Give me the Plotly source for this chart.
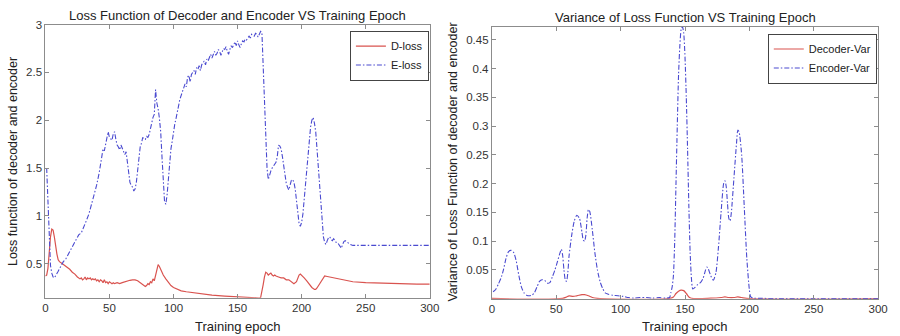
import plotly.graph_objects as go

# ---------------- data ----------------
e_loss_epoch = [1,2,3,4,5,6,7,8,10,12,14,16,18,20,22,24,26,28,30,32,34,36,38,40,42,43,44,45,46,47,48,49,50,51,52,53,54,55,56,57,58,59,60,61,62,63,64,65,66,67,68,69,70,71,72,73,74,75,76,77,78,79,80,81,82,83,84,85,86,87,88,89,90,91,92,93,94,95,96,97,98,99,100,101,102,103,104,105,106,107,108,109,110,111,112,113,114,115,116,117,118,119,120,121,122,123,124,125,126,127,128,129,130,131,132,133,134,135,136,137,138,139,140,141,142,143,144,145,146,147,148,149,150,151,152,153,154,155,156,157,158,159,160,161,162,163,164,165,166,167,168,169,170,171,172,173,174,175,176,177,178,179,180,181,182,183,184,185,186,187,188,189,190,191,192,193,194,195,196,197,198,199,200,201,202,203,204,205,206,207,208,209,210,211,212,213,214,215,216,217,218,219,220,221,222,223,224,225,226,227,228,229,230,231,232,233,234,235,236,238,240,250,260,270,280,290,300]
e_loss = [1.50,1.1,0.7,0.48,0.4,0.36,0.35,0.37,0.42,0.47,0.52,0.55,0.6,0.65,0.7,0.76,0.8,0.82,0.88,0.95,1.02,1.12,1.2,1.32,1.45,1.52,1.62,1.7,1.68,1.75,1.82,1.88,1.82,1.8,1.79,1.86,1.88,1.8,1.74,1.72,1.69,1.74,1.7,1.66,1.64,1.67,1.58,1.45,1.35,1.32,1.3,1.26,1.28,1.35,1.48,1.62,1.72,1.76,1.82,1.8,1.8,1.83,1.82,1.85,1.92,2.0,2.03,2.06,2.32,2.18,2.12,2.02,1.88,1.62,1.35,1.15,1.12,1.22,1.38,1.55,1.7,1.78,1.88,1.96,2.02,2.1,2.16,2.22,2.26,2.3,2.33,2.38,2.35,2.45,2.47,2.4,2.48,2.5,2.52,2.48,2.55,2.53,2.57,2.52,2.58,2.6,2.62,2.58,2.64,2.62,2.66,2.69,2.65,2.7,2.72,2.68,2.7,2.74,2.72,2.68,2.73,2.75,2.74,2.77,2.72,2.69,2.74,2.78,2.76,2.8,2.82,2.78,2.83,2.79,2.76,2.8,2.83,2.82,2.85,2.84,2.86,2.88,2.86,2.9,2.89,2.88,2.91,2.9,2.87,2.9,2.93,2.92,2.6,2.2,1.8,1.5,1.38,1.44,1.47,1.5,1.52,1.55,1.56,1.62,1.74,1.73,1.7,1.62,1.52,1.42,1.34,1.3,1.27,1.32,1.37,1.38,1.35,1.28,1.15,1.0,0.92,0.89,0.93,1.02,1.18,1.35,1.52,1.68,1.82,1.93,2.0,2.03,1.97,1.88,1.7,1.5,1.3,1.1,0.9,0.78,0.72,0.7,0.74,0.77,0.78,0.75,0.74,0.76,0.74,0.72,0.72,0.7,0.67,0.66,0.7,0.73,0.74,0.73,0.72,0.7,0.69,0.69,0.69,0.69,0.69,0.69,0.69]

d_loss_epoch = [0,1,2,3,4,5,6,7,8,9,10,11,13,15,17,19,21,23,25,26,27,28,29,30,31,32,33,34,35,36,37,38,39,40,41,42,43,44,45,46,47,48,49,50,51,52,53,54,56,58,60,62,64,66,68,70,72,74,76,78,79,80,81,82,83,84,85,86,87,88,89,90,91,92,94,96,98,100,103,106,110,115,120,130,140,150,160,167,168,169,170,171,172,173,174,175,176,177,178,179,180,182,184,186,188,190,192,194,196,197,198,199,200,202,204,206,208,210,211,212,214,216,218,220,225,230,235,240,250,260,275,290,300]
d_loss = [0.37,0.38,0.45,0.62,0.78,0.86,0.85,0.78,0.68,0.6,0.54,0.52,0.5,0.48,0.46,0.44,0.41,0.39,0.36,0.35,0.34,0.35,0.33,0.34,0.36,0.33,0.35,0.34,0.35,0.33,0.34,0.33,0.34,0.32,0.33,0.31,0.33,0.32,0.3,0.33,0.3,0.31,0.29,0.31,0.3,0.29,0.3,0.29,0.3,0.29,0.3,0.31,0.32,0.325,0.33,0.33,0.32,0.3,0.28,0.26,0.27,0.29,0.28,0.31,0.3,0.34,0.32,0.37,0.42,0.49,0.47,0.44,0.41,0.38,0.34,0.3,0.27,0.25,0.23,0.215,0.205,0.195,0.185,0.17,0.16,0.15,0.145,0.14,0.145,0.2,0.28,0.36,0.41,0.4,0.38,0.39,0.4,0.38,0.37,0.38,0.37,0.36,0.35,0.35,0.33,0.33,0.31,0.29,0.31,0.35,0.38,0.39,0.38,0.35,0.32,0.28,0.25,0.23,0.23,0.245,0.29,0.33,0.37,0.365,0.35,0.335,0.32,0.31,0.3,0.295,0.29,0.285,0.285]

enc_var_epoch = [1,3,5,7,9,11,13,15,17,19,21,23,25,27,29,31,33,35,37,39,41,43,45,47,49,51,53,54,55,56,57,58,59,60,62,64,66,68,70,71,72,73,74,75,76,78,80,82,84,86,88,90,94,98,102,106,110,115,120,125,130,135,138,139,140,141,142,143,144,145,146,147,148,149,150,151,152,153,154,155,156,158,160,162,164,166,167,168,170,172,174,176,178,180,181,182,183,184,185,186,188,190,191,192,194,196,198,200,201,203,210,250,300]
enc_var = [0.012,0.016,0.025,0.035,0.05,0.07,0.082,0.084,0.08,0.065,0.04,0.02,0.01,0.006,0.005,0.006,0.01,0.02,0.03,0.033,0.032,0.027,0.028,0.038,0.05,0.065,0.08,0.086,0.075,0.05,0.033,0.03,0.045,0.075,0.11,0.135,0.145,0.14,0.115,0.102,0.1,0.11,0.14,0.155,0.152,0.12,0.08,0.05,0.03,0.018,0.01,0.008,0.006,0.005,0.004,0.002,0.001,0.002,0.002,0.001,0.002,0.001,0.002,0.01,0.02,0.04,0.1,0.2,0.3,0.39,0.44,0.468,0.473,0.462,0.42,0.35,0.26,0.16,0.08,0.035,0.017,0.02,0.025,0.028,0.035,0.05,0.055,0.052,0.04,0.032,0.045,0.09,0.15,0.2,0.205,0.195,0.165,0.14,0.135,0.15,0.21,0.27,0.293,0.29,0.25,0.16,0.07,0.015,0.003,0.001,0.0005,0.0003,0.0003]

dec_var_epoch = [0,55,58,60,63,66,70,72,75,78,82,138,141,143,145,147,149,151,153,155,170,178,181,184,188,191,194,198,300]
dec_var = [0.0005,0.0005,0.003,0.005,0.004,0.005,0.007,0.007,0.005,0.002,0.0005,0.0005,0.003,0.009,0.013,0.015,0.014,0.009,0.003,0.0008,0.0008,0.002,0.003,0.002,0.002,0.003,0.002,0.0005,0.0003]

x_ticks = [0, 50, 100, 150, 200, 250, 300]
loss_ticks = [0.5, 1, 1.5, 2, 2.5, 3]
var_ticks = [0.05, 0.1, 0.15, 0.2, 0.25, 0.3, 0.35, 0.4, 0.45]

# ---------------- figure ----------------
RED = "#d9534f"
BLUE = "#4a4ad0"
FONT = "Liberation Sans, Arial, sans-serif"
DASH = "5px,2px,1.5px,2px"

fig = go.Figure()
fig.add_trace(go.Scatter(x=d_loss_epoch, y=d_loss, mode="lines", name="D-loss",
                         line=dict(color=RED, width=1.2), xaxis="x", yaxis="y", legend="legend"))
fig.add_trace(go.Scatter(x=e_loss_epoch, y=e_loss, mode="lines", name="E-loss",
                         line=dict(color=BLUE, width=1.1, dash=DASH), xaxis="x", yaxis="y", legend="legend"))
fig.add_trace(go.Scatter(x=dec_var_epoch, y=dec_var, mode="lines", name="Decoder-Var",
                         line=dict(color=RED, width=1.2, shape="spline"), xaxis="x2", yaxis="y2", legend="legend2"))
fig.add_trace(go.Scatter(x=enc_var_epoch, y=enc_var, mode="lines", name="Encoder-Var",
                         line=dict(color=BLUE, width=1.1, dash=DASH, shape="spline", smoothing=0.6),
                         xaxis="x2", yaxis="y2", legend="legend2"))

axis_common = dict(showline=True, linecolor="#8c8c8c", linewidth=1, mirror="ticks",
                   ticks="inside", ticklen=4, tickcolor="#8c8c8c", showgrid=False, zeroline=False,
                   tickfont=dict(size=11.5, color="#333333", family=FONT))

legend_common = dict(xanchor="left", yanchor="top", bgcolor="white",
                     bordercolor="#444444", borderwidth=1,
                     font=dict(size=11, family=FONT, color="#222"),
                     tracegroupgap=0, itemwidth=30)

fig.update_layout(
    width=900, height=336,
    margin=dict(l=0, r=0, t=0, b=0),
    paper_bgcolor="white", plot_bgcolor="white",
    font=dict(family=FONT, color="#222222"),
    xaxis=dict(domain=[43/900, 433/900], range=[0, 300], tickvals=x_ticks, anchor="y", **axis_common),
    yaxis=dict(domain=[1-297/336, 1-19/336], range=[0.143, 3], tickvals=loss_ticks, anchor="x", **axis_common),
    xaxis2=dict(domain=[496/900, 888/900], range=[0, 300], tickvals=x_ticks, anchor="y2", **axis_common),
    yaxis2=dict(domain=[1-298/336, 1-21/336], range=[0, 0.473], tickvals=var_ticks, anchor="x2", **axis_common),
    legend=dict(x=352/900, y=1-25/336, **legend_common),
    legend2=dict(x=776/900, y=1-28/336, **legend_common),
    showlegend=True,
)

ann = [
    dict(text="Loss Function of Decoder and Encoder VS Training Epoch", x=238/900, y=1-10/336),
    dict(text="Variance of Loss Function VS Training Epoch", x=693/900, y=1-12/336),
    dict(text="Training epoch", x=238/900, y=1-326/336),
    dict(text="Training epoch", x=692/900, y=1-326/336),
]
for a in ann:
    fig.add_annotation(text=a["text"], x=a["x"], y=a["y"], xref="paper", yref="paper",
                       xanchor="center", yanchor="middle", showarrow=False,
                       font=dict(size=13, family=FONT, color="#222222"))
fig.add_annotation(text="Loss function of decoder and encoder", x=10/900, y=1-158/336,
                   xref="paper", yref="paper", xanchor="center", yanchor="middle", showarrow=False,
                   textangle=-90, font=dict(size=12.5, family=FONT, color="#222222"))
fig.add_annotation(text="Variance of Loss Function of decoder and encoder", x=457/900, y=1-159/336,
                   xref="paper", yref="paper", xanchor="center", yanchor="middle", showarrow=False,
                   textangle=-90, font=dict(size=12.5, family=FONT, color="#222222"))

fig.write_html("out.html",
               config={"displayModeBar": False},
               post_script="document.body.style.margin='0px';document.body.style.padding='0px';")
